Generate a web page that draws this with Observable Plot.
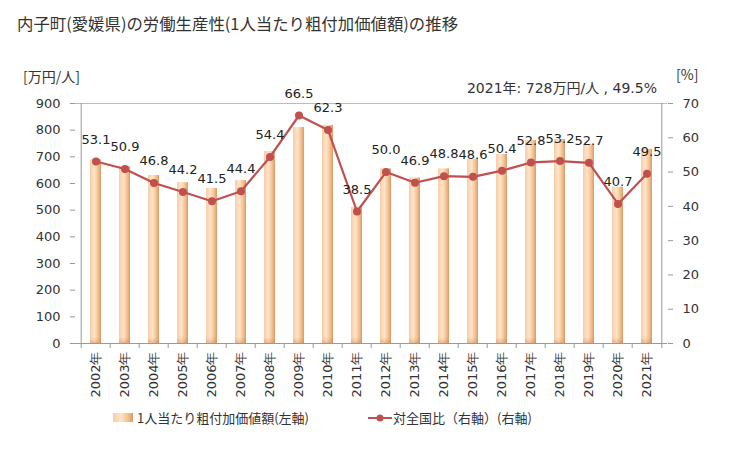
<!DOCTYPE html>
<html><head><meta charset="utf-8">
<script src="https://cdn.jsdelivr.net/npm/d3@7"></script>
<script src="https://cdn.jsdelivr.net/npm/@observablehq/plot@0.6"></script>
<style>
body{margin:0;background:#fff;font-family:"DejaVu Sans","Noto Sans CJK JP",sans-serif;color:#333;}
#wrap{position:relative;width:729px;height:450px;overflow:hidden;}
.t{position:absolute;white-space:nowrap;}
#chart{position:absolute;left:0;top:0;}
</style></head>
<body><div id="wrap">
<div class="t" id="title" style="left:17px;top:11px;font-family:'Noto Sans CJK JP';font-size:16.4px;color:#333;">内子町(愛媛県)の労働生産性(1人当たり粗付加価値額)の推移</div>
<div class="t" style="left:23px;top:66px;font-family:'Noto Sans CJK JP';font-size:14px;">[万円/人]</div>
<div class="t" style="left:676px;top:64px;font-family:'Noto Sans CJK JP';font-size:14px;">[%]</div>
<div class="t" id="note" style="right:72px;top:77px;font-family:'DejaVu Sans','Noto Sans CJK JP';font-size:14px;"></div>
<div id="chart"></div>
<div class="t" style="left:113px;top:408px;font-family:'Noto Sans CJK JP';font-size:13px;display:flex;align-items:center;">
  <span style="display:inline-block;width:20px;height:9px;background:linear-gradient(to right,#f8cda6,#fee4cb 40%,#f4c493 72%,#dd9a66);margin-right:4px;"></span>1人当たり粗付加価値額(左軸)</div>
<div class="t" style="left:368px;top:408px;font-family:'Noto Sans CJK JP';font-size:13px;display:flex;align-items:center;">
  <svg width="24" height="10" style="margin-right:1px"><line x1="0" y1="5" x2="24" y2="5" stroke="#c0504d" stroke-width="2"/><circle cx="12" cy="5" r="3.5" fill="#c0504d"/></svg>対全国比（右軸）(右軸)</div>
</div>
<script>
const years = ["2002年","2003年","2004年","2005年","2006年","2007年","2008年","2009年","2010年","2011年","2012年","2013年","2014年","2015年","2016年","2017年","2018年","2019年","2020年","2021年"];
const productivity = [689,663,630,603,581,611,720,810,818,511,655,621,655,690,709,761,765,745,586,728];
const ratio = [53.1,50.9,46.8,44.2,41.5,44.4,54.4,66.5,62.3,38.5,50.0,46.9,48.8,48.6,50.4,52.8,53.2,52.7,40.7,49.5];
const leftTicks = [0,100,200,300,400,500,600,700,800,900];
const rightTicks = [0,10,20,30,40,50,60,70];
const leftMax = 900, rightMax = 70;

document.getElementById("note").textContent = `2021年: ${productivity[19]}万円/人 , ${ratio[19].toFixed(1)}%`;

const data = years.map((y,i)=>({year:y, v:productivity[i], r:ratio[i], rs: ratio[i]*leftMax/rightMax}));
const W=729,H=450,mL=75,mR=62,mT=103,mB=107;
const step=(W-mL-mR)/years.length;
const ns="http://www.w3.org/2000/svg";
const defs = () => {
  const d=document.createElementNS(ns,"defs");
  d.innerHTML = `<linearGradient id="bg" x1="0" x2="1" y1="0" y2="0">
   <stop offset="0" stop-color="#f8cda6"/><stop offset="0.4" stop-color="#fee4cb"/>
   <stop offset="0.72" stop-color="#f4c493"/><stop offset="1" stop-color="#dd9a66"/></linearGradient>
   <linearGradient id="bb" x1="0" x2="0" y1="0" y2="1">
   <stop offset="0" stop-color="#c87a45" stop-opacity="0"/><stop offset="1" stop-color="#c87a45" stop-opacity="0.35"/></linearGradient>`;
  return d;
};
const plot = Plot.plot({
  width:W,height:H,marginLeft:mL,marginRight:mR,marginTop:mT,marginBottom:mB,
  style:{fontFamily:"DejaVu Sans",fontSize:"13px",color:"#333",background:"transparent"},
  x:{type:"band",domain:years,paddingInner:0.62,paddingOuter:0.31,align:0.5,axis:null,label:null},
  y:{domain:[0,leftMax],axis:null,label:null},
  marks:[
    defs,
    Plot.barY(data,{x:"year",y:"v",fill:"url(#bg)"}),
    Plot.barY(data,{x:"year",y:d=>Math.min(d.v,22),fill:"url(#bb)"}),
    Plot.ruleY([leftMax],{stroke:"#c9bd96"}),
    Plot.ruleY([0],{stroke:"#999"}),
    Plot.ruleX([years[0]],{dx:-step/2,stroke:"#999"}),
    Plot.ruleX([years[years.length-1]],{dx:step/2,stroke:"#999"}),
    Plot.ruleX(years,{dx:-step/2,y1:0,y2:-19,stroke:"#999"}),
    Plot.ruleX([years[years.length-1]],{dx:step/2,y1:0,y2:-19,stroke:"#999"}),
    Plot.axisY({anchor:"left",ticks:leftTicks,tickSize:5,tickPadding:10,stroke:"#999",label:null,tickFormat:d=>d}),
    Plot.axisY({anchor:"right",ticks:rightTicks.map(t=>t*leftMax/rightMax),tickSize:5,tickPadding:10,stroke:"#999",label:null,tickFormat:d=>Math.round(d*rightMax/leftMax)}),
    Plot.axisX({domain:years,tickRotate:-90,tickSize:0,tickPadding:8,fontSize:13,label:null}),
    Plot.line(data,{x:"year",y:"rs",stroke:"#c0504d",strokeWidth:2.2}),
    Plot.dot(data,{x:"year",y:"rs",fill:"#c0504d",r:4}),
    Plot.text(data,{x:"year",y:"rs",text:d=>d.r.toFixed(1),dy:-22,fill:"#222",fontSize:13})
  ]
});
document.getElementById("chart").appendChild(plot);
</script>
</body></html>
